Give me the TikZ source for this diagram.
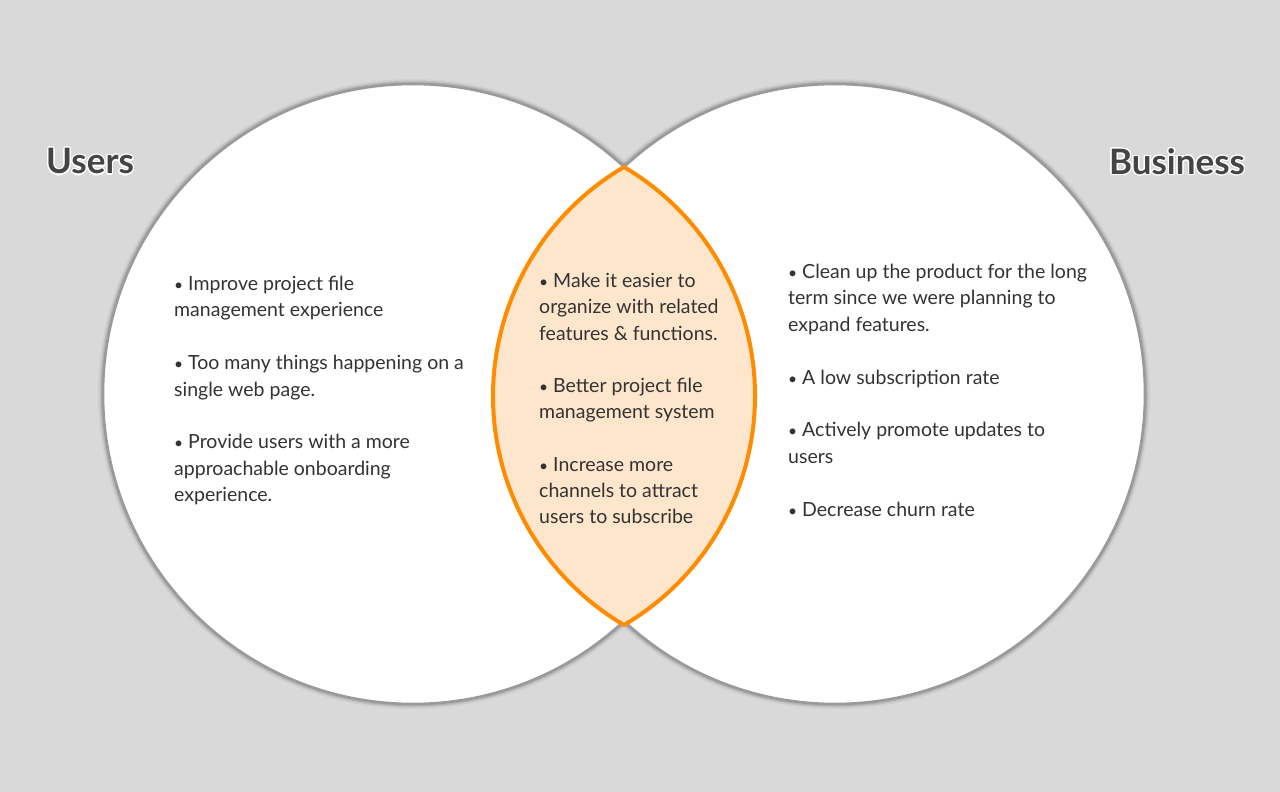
\documentclass[tikz,border=0pt]{standalone}
\usepackage{fontspec}
\setmainfont{Lato}
\usepackage[copies]{contour}
\contourlength{1.2pt}
\contournumber{24}
\definecolor{bgcol}{HTML}{D9D9D9}
\definecolor{ringcol}{HTML}{9A9A9A}
\definecolor{lensfill}{HTML}{FDE6CB}
\definecolor{lensline}{HTML}{FF8C00}
\definecolor{txt}{HTML}{333333}
\definecolor{titlecol}{HTML}{444444}
\newcommand{\bul}{\scalebox{0.8}{•}}
\tikzset{
  ringshadow/.style={draw=black, draw opacity=#1},
  ring/.style={draw=ringcol, line width=2.6pt},
  body/.style={align=left, anchor=north west, inner sep=0pt, text=txt,
    font=\fontsize{19.5}{26.4}\selectfont},
  title/.style={inner sep=0pt, text=titlecol, font=\fontsize{35}{40}\selectfont\bfseries}
}
\begin{document}
\begin{tikzpicture}[x=1pt,y=-1pt]
\useasboundingbox (0,0) rectangle (1280,792);
\fill[bgcol] (0,0) rectangle (1280,792);
% shadows
\foreach \w/\o in {10/0.04,7/0.06,5/0.08} {
  \draw[ringshadow=\o, line width=\w pt] (413,394) circle[radius=310];
  \draw[ringshadow=\o, line width=\w pt] (835,394) circle[radius=310];
}
\fill[white] (413,394) circle[radius=310];
\fill[white] (835,394) circle[radius=310];
\draw[ring] (413,394) circle[radius=310];
\draw[ring] (835,394) circle[radius=310];
% lens
\coordinate (top) at (624,167);
\draw[fill=lensfill, draw=lensline, line width=4pt]
  (top) arc[start angle=239.53, end angle=120.47, radius=265.7]
        arc[start angle=59.53, end angle=-59.53, radius=265.7] -- cycle;
% titles
\node[title] (users) at (90,162) {\contour{white}{Users}};
\node[title] (business) at (1177,162) {\contour{white}{Business}};
% texts
\node[body] (ltext) at (174,276) {%
\bul\ Improve project file\\
management experience\\[26.4pt]
\bul\ Too many things happening on a\\
single web page.\\[26.4pt]
\bul\ Provide users with a more\\
approachable onboarding\\
experience.};
\node[body] (mtext) at (539,273) {%
\bul\ Make it easier to\\
organize with related\\
features \& functions.\\[25.8pt]
\bul\ Better project file\\
management system\\[25.8pt]
\bul\ Increase more\\
channels to attract\\
users to subscribe};
\node[body] (rtext) at (788,264) {%
\bul\ Clean up the product for the long\\
term since we were planning to\\
expand features.\\[26.4pt]
\bul\ A low subscription rate\\[26.4pt]
\bul\ Actively promote updates to\\
users\\[26.4pt]
\bul\ Decrease churn rate};
\end{tikzpicture}
\end{document}
